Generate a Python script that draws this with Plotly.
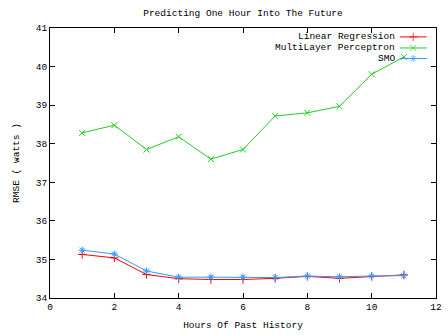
import plotly.graph_objects as go

hours = [1, 2, 3, 4, 5, 6, 7, 8, 9, 10, 11]
lin_reg = [35.13, 35.04, 34.61, 34.50, 34.48, 34.48, 34.51, 34.56, 34.51, 34.56, 34.60]
mlp = [38.28, 38.48, 37.85, 38.18, 37.60, 37.85, 38.72, 38.80, 38.97, 39.80, 40.25]
smo = [35.24, 35.14, 34.70, 34.54, 34.54, 34.54, 34.53, 34.57, 34.55, 34.57, 34.58]

names = ["Linear Regression", "MultiLayer Perceptron", "SMO"]
colors = ["#ff0000", "#22cc22", "#3399ff"]
symbols = ["cross-thin", "x-thin", "asterisk"]
series = [lin_reg, mlp, smo]

FONT = "Liberation Mono"
FS = 9.5
fig = go.Figure()
for name, col, sym, vals in zip(names, colors, symbols, series):
    fig.add_trace(go.Scatter(
        x=hours, y=vals, mode="lines+markers", name=name,
        line=dict(color=col, width=1),
        marker=dict(symbol=sym, size=6, color=col, line=dict(color=col, width=1)),
        showlegend=False))

# custom gnuplot-style legend (text right, sample on right)
rows = [0.967, 0.926, 0.887]
for name, col, sym, ry in zip(names, colors, symbols, rows):
    fig.add_annotation(x=0.899, y=ry, xref="paper", yref="paper", text=name,
                       showarrow=False, xanchor="right", yanchor="middle",
                       font=dict(family=FONT, size=FS, color="black"))
    fig.add_trace(go.Scatter(
        x=[0.906, 0.941, 0.976], y=[ry, ry, ry], xaxis="x2", yaxis="y2",
        mode="lines+markers", showlegend=False, hoverinfo="skip",
        line=dict(color=col, width=1),
        marker=dict(symbol=sym, size=[0, 6, 0], color=col, line=dict(color=col, width=1))))

axis_common = dict(showline=True, linecolor="black", linewidth=1, mirror="ticks",
                   ticks="inside", ticklen=5, tickcolor="black", showgrid=False,
                   zeroline=False, tickfont=dict(family=FONT, size=FS, color="black"))
fig.update_layout(
    width=448, height=335,
    margin=dict(l=50, r=6, t=28, b=37),
    paper_bgcolor="white", plot_bgcolor="white",
    title=dict(text="Predicting One Hour Into The Future", x=0.5, xref="paper", xanchor="center",
               y=0.963, yanchor="middle", font=dict(family=FONT, size=FS, color="black")),
    xaxis=dict(range=[0, 12], dtick=2, title=dict(text="Hours Of Past History", standoff=8,
               font=dict(family=FONT, size=FS, color="black")), **axis_common),
    yaxis=dict(range=[34, 41], dtick=1, title=dict(text="RMSE ( watts )", standoff=14,
               font=dict(family=FONT, size=FS, color="black")), **axis_common),
    xaxis2=dict(overlaying="x", range=[0, 1], visible=False),
    yaxis2=dict(overlaying="y", range=[0, 1], visible=False),
)
fig.write_html("out.html")
